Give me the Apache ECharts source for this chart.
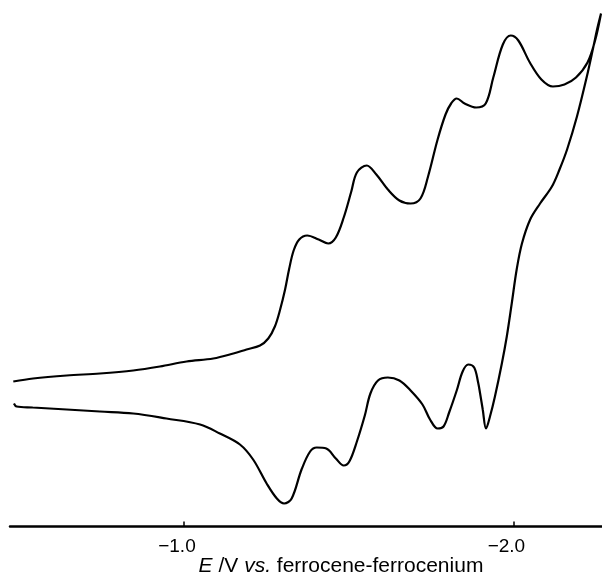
<!DOCTYPE html>
<html>
<head>
<meta charset="utf-8">
<script src="https://cdn.jsdelivr.net/npm/echarts@6/dist/echarts.min.js"></script>
<style>
html,body{margin:0;padding:0;background:#fff;overflow:hidden;}
#chart{width:602px;height:577px;}
</style>
</head>
<body>
<div id="chart"></div>
<script>
// Potential E (V vs. Fc/Fc+) and current (arbitrary units)
// Forward (cathodic) scan, left to right
const forwardE = [-0.482,-0.542,-0.644,-0.745,-0.846,-0.927,-1.008,-1.089,-1.150,-1.190,-1.231,-1.256,-1.276,-1.292,-1.307,-1.319,-1.333,-1.350,-1.374,-1.409,-1.438,-1.461,-1.485,-1.508,-1.525,-1.555,-1.584,-1.619,-1.654,-1.688,-1.718,-1.741,-1.770,-1.794,-1.811,-1.828,-1.852,-1.887,-1.916,-1.939,-1.968,-1.992,-2.015,-2.050,-2.085,-2.120,-2.155,-2.190,-2.225,-2.248,-2.266];
const forwardI = [14.5,14.8,15.1,15.3,15.6,16.0,16.5,16.8,17.3,17.7,18.1,18.8,20.0,21.7,23.7,25.7,27.6,28.7,29.1,28.7,28.3,28.9,30.9,33.5,35.4,36.1,35.2,33.7,32.6,32.3,32.8,35.0,38.7,41.2,42.3,42.8,42.3,41.9,42.3,44.9,48.2,49.1,48.6,46.4,44.7,44.0,44.2,44.9,46.4,48.6,51.3];
// Return (anodic) scan, right to left
const reverseE = [-2.254,-2.243,-2.223,-2.193,-2.163,-2.140,-2.117,-2.081,-2.051,-2.026,-2.010,-1.995,-1.980,-1.965,-1.944,-1.929,-1.917,-1.907,-1.899,-1.893,-1.881,-1.863,-1.846,-1.828,-1.805,-1.788,-1.770,-1.747,-1.724,-1.688,-1.654,-1.619,-1.589,-1.566,-1.549,-1.525,-1.502,-1.485,-1.461,-1.432,-1.403,-1.383,-1.357,-1.327,-1.304,-1.282,-1.251,-1.210,-1.170,-1.109,-1.049,-0.947,-0.846,-0.745,-0.644,-0.541,-0.492,-0.484];
const reverseI = [49.7,48.0,45.0,41.0,37.7,35.7,34.0,32.3,30.7,28.3,25.7,22.3,19.0,16.3,13.0,11.0,9.8,11.7,13.3,14.4,15.9,16.2,15.5,13.6,11.4,10.0,9.8,10.7,12.2,13.6,14.6,14.9,14.6,13.3,11.1,8.5,6.5,6.1,6.8,7.8,7.9,7.5,5.7,2.8,2.3,2.8,4.3,6.7,8.2,9.3,10.2,10.8,11.3,11.5,11.7,11.9,12.0,12.3];
const tickValues = [-1.0, -2.0];
const axisTitle = '{i|E} /V {i|vs.} ferrocene-ferrocenium';

const curve = [];
forwardE.forEach((e, k) => curve.push([e, forwardI[k]]));
reverseE.forEach((e, k) => curve.push([e, reverseI[k]]));

const FONT = '"Liberation Sans", Arial, Helvetica, sans-serif';
const chart = echarts.init(document.getElementById('chart'), null, {renderer: 'canvas'});
chart.setOption({
  animation: false,
  backgroundColor: '#fff',
  grid: {left: 10, right: 0, top: 0, bottom: 50.5, containLabel: false, outerBoundsMode: 'none'},
  xAxis: {
    type: 'value',
    inverse: true,
    min: -2.269,
    max: -0.472,
    axisLine: {show: true, onZero: false, lineStyle: {color: '#000', width: 2.5}},
    axisTick: {show: true, inside: true, length: 5, lineStyle: {color: '#000', width: 1.5}, customValues: tickValues},
    axisLabel: {
      show: true, margin: 11, color: '#000', fontSize: 19, fontFamily: FONT,
      customValues: tickValues,
      padding: [0, 14, 0, 0],
      formatter: v => '\u2212' + Math.abs(v).toFixed(1)
    },
    splitLine: {show: false},
    name: axisTitle,
    nameLocation: 'middle',
    nameGap: 29,
    nameMoveOverlap: false,
    nameTextStyle: {
      color: '#000', fontSize: 21, fontFamily: FONT, padding: [0, 0, 0, 70],
      rich: {i: {fontStyle: 'italic', fontSize: 21, fontFamily: FONT, color: '#000'}}
    }
  },
  yAxis: {
    type: 'value', min: 0, max: 52.65, show: false
  },
  series: [{
    type: 'line',
    data: curve,
    showSymbol: false,
    symbol: 'none',
    smooth: 0.35,
    lineStyle: {color: '#000', width: 2.2}
  }]
});
</script>
</body>
</html>
